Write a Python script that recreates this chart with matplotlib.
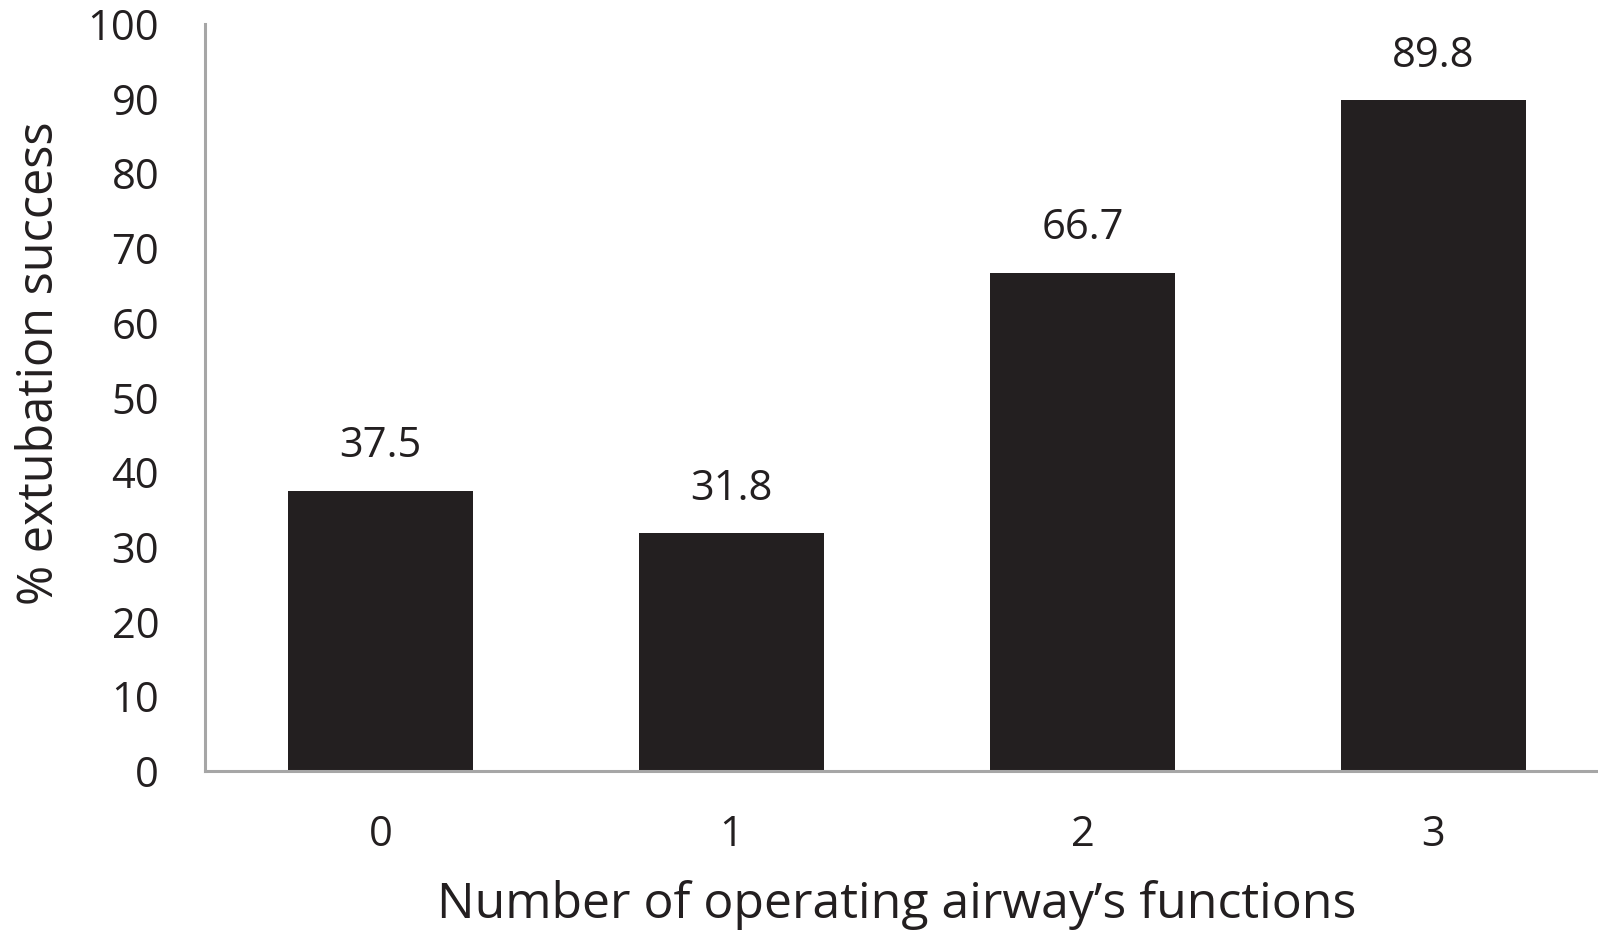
import matplotlib
matplotlib.use("Agg")
import matplotlib.pyplot as plt

# Extubation success by number of operating airway functions
categories = ["0", "1", "2", "3"]
success_pct = [37.5, 31.8, 66.7, 89.8]
y_ticks = [0, 10, 20, 30, 40, 50, 60, 70, 80, 90, 100]

plt.rcParams["font.family"] = ["Open Sans", "DejaVu Sans"]
TEXT = "#231f20"
BAR = "#231f20"
AXIS = "#a6a6a6"

W, H = 1598, 930
fig = plt.figure(figsize=(W / 100, H / 100), dpi=100)
left, right = 205 / W, 1609 / W
bottom, top = 1 - 771 / H, 1 - 24 / H
ax = fig.add_axes([left, bottom, right - left, top - bottom])

x = range(len(categories))
ax.bar(x, success_pct, width=0.527, color=BAR, zorder=2)

for xi, v in zip(x, success_pct):
    ax.annotate(f"{v:.1f}", (xi, v), xytext=(0, 17), textcoords="offset points",
                ha="center", va="bottom", fontsize=30, color=TEXT)

ax.set_xlim(-0.5, 3.5)
ax.set_ylim(0, 100)
ax.set_yticks(y_ticks)
ax.set_xticks(list(x))
ax.set_xticklabels(categories)

for s in ["top", "right"]:
    ax.spines[s].set_visible(False)
for s in ["left", "bottom"]:
    ax.spines[s].set_color(AXIS)
    ax.spines[s].set_linewidth(2.2)

ax.tick_params(axis="both", length=0, labelsize=30, labelcolor=TEXT)
ax.tick_params(axis="y", pad=33)
ax.tick_params(axis="x", pad=31)

ax.set_xlabel("Number of operating airway\u2019s functions", fontsize=36, color=TEXT, labelpad=17)
ax.set_ylabel("% extubation success", fontsize=35, color=TEXT, labelpad=16)
ax.xaxis.label.set_x(0.493)
ax.yaxis.label.set_y(0.546)

fig.savefig("out.png", dpi=100)
